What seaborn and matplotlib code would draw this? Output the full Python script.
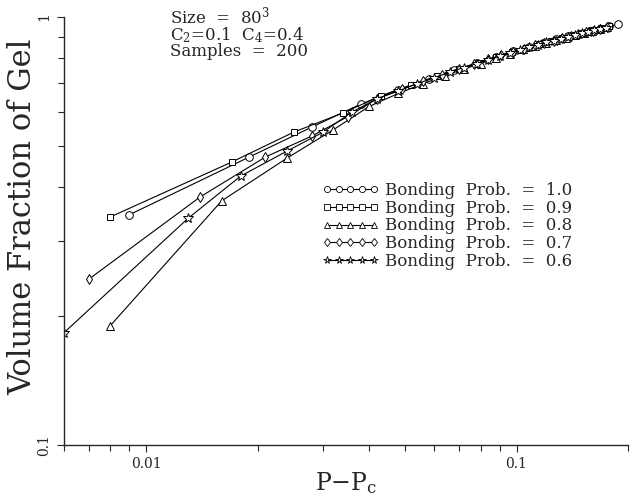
import numpy as np
import pandas as pd
import matplotlib
matplotlib.use("Agg")
import matplotlib.pyplot as plt
from matplotlib.lines import Line2D
from matplotlib.ticker import FixedLocator, NullFormatter
import seaborn as sns

# ---------------- data ----------------
labels = ["Bonding  Prob.  =  1.0", "Bonding  Prob.  =  0.9", "Bonding  Prob.  =  0.8",
          "Bonding  Prob.  =  0.7", "Bonding  Prob.  =  0.6"]

x_10 = [0.009, 0.019, 0.028, 0.038, 0.048, 0.058, 0.068, 0.078, 0.088, 0.098, 0.108,
        0.118, 0.128, 0.138, 0.148, 0.158, 0.168, 0.178, 0.188]
y_10 = [0.345, 0.471, 0.553, 0.626, 0.677, 0.717, 0.752, 0.780, 0.807, 0.832, 0.852,
        0.870, 0.886, 0.901, 0.915, 0.928, 0.940, 0.951, 0.961]

x_09 = [0.008, 0.017, 0.025, 0.034, 0.043, 0.052, 0.061, 0.070, 0.079, 0.088, 0.097,
        0.106, 0.115, 0.124, 0.133, 0.142, 0.151, 0.160, 0.169, 0.178]
y_09 = [0.341, 0.458, 0.538, 0.597, 0.654, 0.694, 0.728, 0.758, 0.782, 0.807, 0.830,
        0.848, 0.865, 0.880, 0.894, 0.907, 0.919, 0.930, 0.941, 0.951]

x_08 = [0.008, 0.016, 0.024, 0.032, 0.040, 0.048, 0.056, 0.064, 0.072, 0.080, 0.088,
        0.096, 0.104, 0.112, 0.120, 0.128, 0.136, 0.144, 0.152, 0.160, 0.168, 0.176]
y_08 = [0.190, 0.372, 0.468, 0.545, 0.618, 0.663, 0.699, 0.729, 0.756, 0.778, 0.801,
        0.821, 0.840, 0.855, 0.870, 0.882, 0.894, 0.906, 0.916, 0.926, 0.937, 0.946]

x_07 = [0.007, 0.014, 0.021, 0.028, 0.035, 0.042, 0.049, 0.056, 0.063, 0.070, 0.077,
        0.084, 0.091, 0.098, 0.105, 0.112, 0.119, 0.126, 0.133, 0.140, 0.147, 0.154,
        0.161, 0.168, 0.175]
y_07 = [0.244, 0.380, 0.471, 0.527, 0.585, 0.644, 0.678, 0.707, 0.732, 0.756, 0.775,
        0.796, 0.813, 0.830, 0.844, 0.858, 0.870, 0.881, 0.892, 0.902, 0.912, 0.921,
        0.929, 0.938, 0.946]

x_06 = [0.006, 0.013, 0.018, 0.024, 0.030, 0.036, 0.042, 0.048, 0.054, 0.060, 0.066,
        0.072, 0.078, 0.084, 0.090, 0.096, 0.102, 0.108, 0.114, 0.120, 0.126, 0.132,
        0.138, 0.144, 0.150, 0.156, 0.162, 0.168, 0.174]
y_06 = [0.183, 0.339, 0.425, 0.486, 0.538, 0.600, 0.644, 0.672, 0.699, 0.721, 0.743,
        0.762, 0.778, 0.794, 0.810, 0.825, 0.839, 0.850, 0.861, 0.872, 0.881, 0.890,
        0.899, 0.908, 0.916, 0.923, 0.930, 0.938, 0.944]

series_x = [x_10, x_09, x_08, x_07, x_06]
series_y = [y_10, y_09, y_08, y_07, y_06]
marker_list = ["o", "s", "^", "d", "*"]

frames = []
for lab, xs, ys in zip(labels, series_x, series_y):
    frames.append(pd.DataFrame({"x": xs, "y": ys, "series": lab}))
df = pd.concat(frames, ignore_index=True)

# ---------------- style ----------------
sns.set_style("ticks")
plt.rcParams["font.family"] = ["DejaVu Serif", "DejaVu Sans"]
plt.rcParams["mathtext.fontset"] = "dejavuserif"

fig = plt.figure(figsize=(6.35, 4.96), dpi=100)
ax = fig.add_axes([64 / 635, 51 / 496, 564 / 635, 428 / 496])

msizes = {"o": 5.5, "s": 5.0, "^": 5.5, "d": 5.5, "*": 7.0}
palette = {lab: "black" for lab in labels}
mk = {lab: m for lab, m in zip(labels, marker_list)}

sns.lineplot(data=df, x="x", y="y", hue="series", style="series",
             hue_order=labels, style_order=labels, palette=palette,
             markers=mk, dashes=False, sort=True, legend=False, ax=ax,
             linewidth=0.8, markersize=5.5, markerfacecolor="white",
             markeredgecolor="black", markeredgewidth=0.7)

for line, m in zip(ax.get_lines(), marker_list):
    line.set_markersize(msizes[m])

ax.set_xscale("log")
ax.set_yscale("log")
ax.set_xlim(0.006, 0.2)
ax.set_ylim(0.1, 1.0)

ax.xaxis.set_major_locator(FixedLocator([0.01, 0.1]))
ax.xaxis.set_minor_locator(FixedLocator([0.006, 0.007, 0.008, 0.009, 0.02, 0.03, 0.04,
                                         0.05, 0.06, 0.07, 0.08, 0.09, 0.2]))
ax.xaxis.set_minor_formatter(NullFormatter())
ax.set_xticklabels(["0.01", "0.1"], fontsize=10)

ax.yaxis.set_major_locator(FixedLocator([0.1, 1.0]))
ax.yaxis.set_minor_locator(FixedLocator([0.2, 0.3, 0.4, 0.5, 0.6, 0.7, 0.8, 0.9]))
ax.yaxis.set_minor_formatter(NullFormatter())
ax.set_yticklabels(["0.1", "1"], fontsize=10, rotation=90, va="center")

ax.tick_params(which="major", length=5, width=0.8, direction="out", pad=4)
ax.tick_params(which="minor", length=4, width=0.8, direction="out")

for s in ["top", "right"]:
    ax.spines[s].set_visible(False)
for s in ["left", "bottom"]:
    ax.spines[s].set_linewidth(1.0)

ax.set_xlabel(r"P$-$P$_\mathregular{c}$", fontsize=17)
ax.xaxis.set_label_coords(0.5, -0.058)
ax.set_ylabel("Volume Fraction of Gel", fontsize=22)
ax.yaxis.set_label_coords(-0.046, (445 - 217) / 428)

fig.text(170 / 635, 1 - 6 / 496,
         "Size  =  80$^\\mathregular{3}$\nC$_\\mathregular{2}$=0.1  C$_\\mathregular{4}$=0.4\nSamples  =  200",
         fontsize=12, va="top", ha="left", linespacing=0.82)

handles = [Line2D([], [], color="black", linewidth=0.8, marker=m,
                  markersize=msizes[m] * 0.8, markerfacecolor="white",
                  markeredgecolor="black", markeredgewidth=0.6)
           for m in marker_list]
leg = ax.legend(handles, labels, loc="center left",
                bbox_to_anchor=((322 - 64) / 564, (445 - 226) / 428),
                frameon=False, numpoints=5, handlelength=3.4, handletextpad=0.4,
                labelspacing=0.05, fontsize=12, borderpad=0.0, borderaxespad=0.0)

fig.savefig("out.png", dpi=100)
